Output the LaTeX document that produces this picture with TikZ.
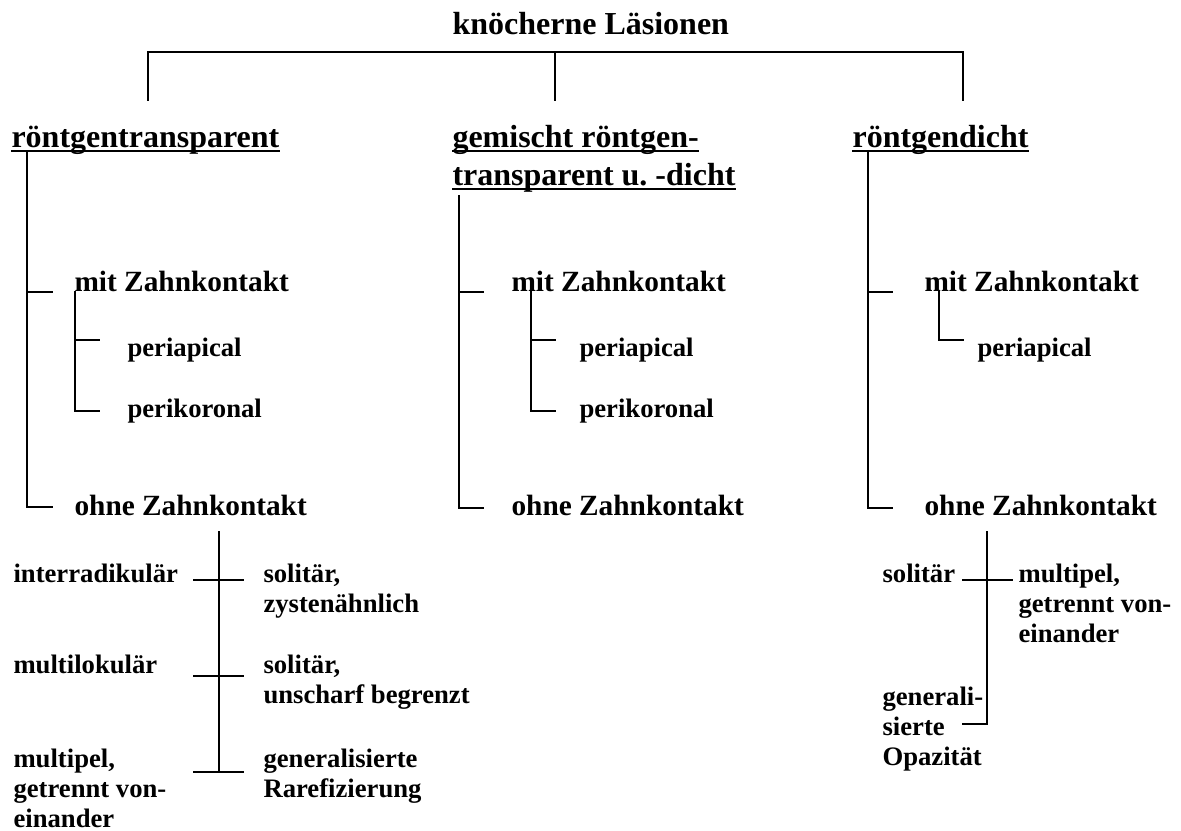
\documentclass[tikz,border=0pt]{standalone}
\usepackage{fontspec}
\setmainfont{Liberation Serif}
\frenchspacing
\newcommand{\mlines}[1]{\begin{tabular}[t]{@{}l@{}}#1\end{tabular}}
\begin{document}
\begin{tikzpicture}[x=0.375pt,y=-0.375pt,
  ln/.style={line width=0.75pt, line cap=rect},
  uln/.style={line width=1.1pt},
  tA/.style={font=\fontsize{12}{14.25}\selectfont\bfseries, inner sep=0pt, anchor=base west},
  tB/.style={font=\fontsize{11}{13}\selectfont\bfseries, inner sep=0pt, anchor=base west},
  tC/.style={font=\fontsize{10}{11.25}\selectfont\bfseries, inner sep=0pt, anchor=base west}]
\useasboundingbox (0,0) rectangle (1181,830);

% texts
\node[tA] (title) at (452,34) {knöcherne Läsionen};
\node[tA] (rt) at (11,147) {röntgentransparent};
\node[tA] (gm1) at (452,147) {gemischt röntgen-};
\node[tA] (gm2) at (452,185) {transparent u. -dicht};
\node[tA] (rd) at (852,147) {röntgendicht};

\node[tB] (Lmit) at (74,291) {mit Zahnkontakt};
\node[tC] (Lperi) at (127,356) {periapical};
\node[tC] (Lperik) at (127,417) {perikoronal};
\node[tB] (Lohne) at (74,515) {ohne Zahnkontakt};

\node[tB] (Mmit) at (511,291) {mit Zahnkontakt};
\node[tC] (Mperi) at (579,356) {periapical};
\node[tC] (Mperik) at (579,417) {perikoronal};
\node[tB] (Mohne) at (511,515) {ohne Zahnkontakt};

\node[tB] (Rmit) at (924,291) {mit Zahnkontakt};
\node[tC] (Rperi) at (977,356) {periapical};
\node[tB] (Rohne) at (924,515) {ohne Zahnkontakt};

\node[tC] (intr) at (13,582) {interradikulär};
\node[tC] (mlok) at (13,673) {multilokulär};
\node[tC] (mult) at (13,767) {\mlines{multipel,\\getrennt von-\\einander}};
\node[tC] (sol1) at (263,582) {\mlines{solitär,\\zystenähnlich}};
\node[tC] (sol2) at (263,673) {\mlines{solitär,\\unscharf begrenzt}};
\node[tC] (gen) at (263,767) {\mlines{generalisierte\\Rarefizierung}};

\node[tC] (rsol) at (882,582) {solitär};
\node[tC] (rmult) at (1018,582) {\mlines{multipel,\\getrennt von-\\einander}};
\node[tC] (rgen) at (882,705) {\mlines{generali-\\sierte\\Opazität}};

% underlines
\foreach \n in {rt,gm1,gm2,rd}
  \draw[uln] ([yshift=-1.5pt]\n.base west) -- ([yshift=-1.5pt]\n.base east);

% coordinates of the tree
\coordinate (tl) at (148,52); \coordinate (tr) at (963,52); \coordinate (tm) at (555,52);
\coordinate (tlb) at (148,100); \coordinate (tmb) at (555,100); \coordinate (trb) at (963,100);

\coordinate (La) at (27,151); \coordinate (Lb) at (27,292); \coordinate (Lc) at (27,507);
\coordinate (Lsa) at (75,292); \coordinate (Lsb) at (75,340); \coordinate (Lsc) at (75,411);

\coordinate (Ma) at (459,196); \coordinate (Mb) at (459,292); \coordinate (Mc) at (459,508);
\coordinate (Msa) at (531,292); \coordinate (Msb) at (531,340); \coordinate (Msc) at (531,411);

\coordinate (Ra) at (868,151); \coordinate (Rb) at (868,292); \coordinate (Rc) at (868,508);
\coordinate (Rsa) at (939,292); \coordinate (Rsb) at (939,340);

\coordinate (Ba) at (219,532); \coordinate (Bb) at (219,580); \coordinate (Bc) at (219,676); \coordinate (Bd) at (219,772);
\coordinate (Ca) at (987,532); \coordinate (Cb) at (987,580); \coordinate (Cc) at (987,724);

% top bracket
\draw[ln] (tlb) -- (tl) -- (tr) -- (trb);
\draw[ln] (tm) -- (tmb);

% left branch
\draw[ln] (La) -- (Lc) -- ++(25,0);
\draw[ln] (Lb) -- ++(25,0);
\draw[ln] (Lsa) -- (Lsc) -- ++(24,0);
\draw[ln] (Lsb) -- ++(24,0);

% middle branch
\draw[ln] (Ma) -- (Mc) -- ++(24,0);
\draw[ln] (Mb) -- ++(24,0);
\draw[ln] (Msa) -- (Msc) -- ++(24,0);
\draw[ln] (Msb) -- ++(24,0);

% right branch
\draw[ln] (Ra) -- (Rc) -- ++(24,0);
\draw[ln] (Rb) -- ++(24,0);
\draw[ln] (Rsa) -- (Rsb) -- ++(24,0);

% bottom left
\draw[ln] (Ba) -- (Bd);
\draw[ln] (Bb) ++(-25,0) -- ++(49,0);
\draw[ln] (Bc) ++(-25,0) -- ++(49,0);
\draw[ln] (Bd) ++(-25,0) -- ++(49,0);

% bottom right
\draw[ln] (Ca) -- (Cc) -- ++(-24,0);
\draw[ln] (Cb) ++(-24,0) -- ++(49,0);
\end{tikzpicture}
\end{document}
